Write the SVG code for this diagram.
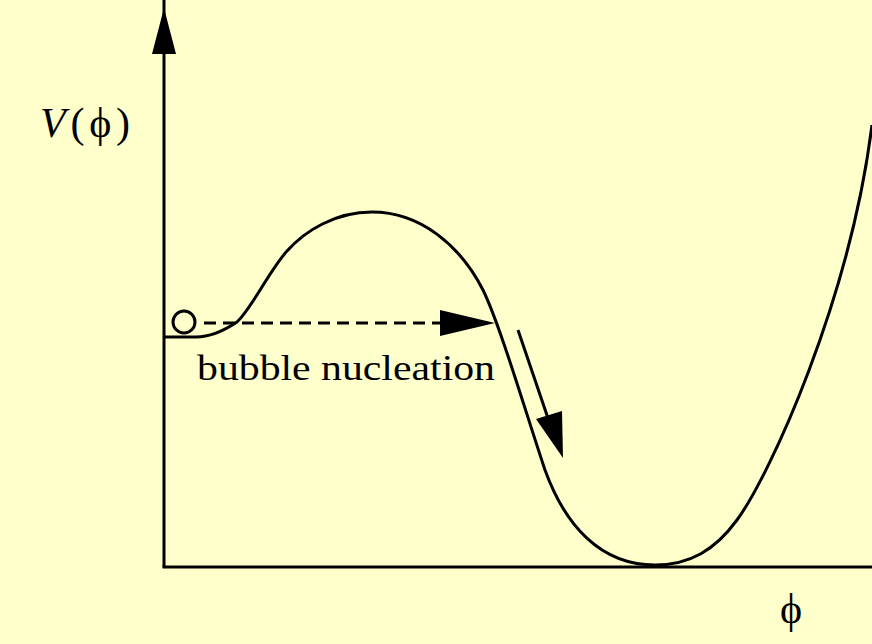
<svg xmlns="http://www.w3.org/2000/svg" width="872" height="644" viewBox="0 0 872 644">
<style>
.ln{fill:none;stroke:#000;stroke-width:3}
.ah{fill:#000;stroke:none}
.t{font-family:"Liberation Serif","DejaVu Serif",serif;fill:#000}
</style>
<rect width="872" height="644" fill="#FFFFCC"/>
<g id="axes">
<line class="ln" x1="164" y1="0" x2="164" y2="567"/>
<line class="ln" x1="162.5" y1="567" x2="872" y2="567"/>
<polygon class="ah" points="164,8 176,54 152,54"/>
</g>
<g id="potential">
<path class="ln" d="M164,337 L196,337 C212,337 225,330 237,322 C252,308 269,271 287,251 C305,231 335,212 372,212 C420,212 460,245 483,290 C500,325 525,410 545,470 C565,525 600,565 655,565 C690,565 715,550 737,520 C770,475 850,300 872,125"/>
</g>
<g id="ball">
<circle class="ln" cx="184" cy="322" r="11"/>
</g>
<g id="connectors">
<line class="ln" x1="204" y1="323" x2="442" y2="323" stroke-dasharray="12,7"/>
<polygon class="ah" points="495,323 440,310 440,336"/>
<line class="ln" x1="518" y1="330" x2="552" y2="430"/>
<polygon class="ah" points="563,458 536,419 562,411"/>
</g>
<g id="labels">
<text class="t" x="40" y="137" font-size="42" textLength="90" lengthAdjust="spacing"><tspan font-style="italic">V</tspan>(ϕ)</text>
<text class="t" x="197" y="380" font-size="36" textLength="298" lengthAdjust="spacingAndGlyphs">bubble nucleation</text>
<text class="t" x="791" y="623" font-size="42" text-anchor="middle">ϕ</text>
</g>
</svg>
